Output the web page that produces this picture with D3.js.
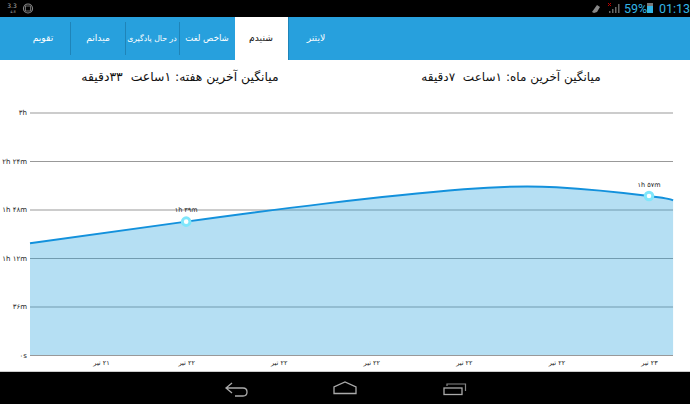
<!DOCTYPE html>
<html><head><meta charset="utf-8">
<script src="https://cdnjs.cloudflare.com/ajax/libs/d3/7.8.5/d3.min.js"></script>
<style>html,body{margin:0;padding:0;background:#fff}svg{display:block}text{font-family:"DejaVu Sans",sans-serif}</style>
</head><body><svg id="c" width="690" height="404"></svg>
<script>
const tabs = ["لایتنر","شنیدم","شاخص لغت","در حال یادگیری","میدانم","تقویم"];
const titles = ["میانگین آخرین هفته: ۱ساعت  ۳۳دقیقه","میانگین آخرین ماه: ۱ساعت  ۷دقیقه"];
const yTicks = [0,36,72,108,144,180];
const yLabels = ["۰s","۳۶m","۱h ۱۲m","۱h ۴۸m","۲h ۲۴m","۳h"];
const xTicks = [0.08,1,2,3,4,5,6];
const xLabels = ["۲۱ تیر","۲۲ تیر","۲۲ تیر","۲۲ تیر","۲۲ تیر","۲۲ تیر","۲۳ تیر"];
const seriesX = [-0.687,1,2.5,4,5,6,6.26];
const seriesY = [82.9,99,112.4,123,124.5,118,114.8];
const markerX = [1,6];
const markerY = [99,118];
const markerLabels = ["۱h ۳۹m","۱h ۵۷m"];

const svg = d3.select("#c");
const blue = "#27a0dd";

// Android status bar and navigation bar
svg.append("rect").attr("width",690).attr("height",17).attr("fill","#000");
svg.append("rect").attr("y",372).attr("width",690).attr("height",32).attr("fill","#000");
svg.append("rect").attr("y",371).attr("width",690).attr("height",1).attr("fill","#ccc");
svg.append("text").attr("x",12).attr("y",8).attr("font-size",6).attr("fill","#aaa").attr("text-anchor","middle").text("3.3");
svg.append("text").attr("x",13).attr("y",13).attr("font-size",3.5).attr("fill","#aaa").attr("text-anchor","middle").text("4.8");
svg.append("circle").attr("cx",28).attr("cy",8.5).attr("r",4.5).attr("fill","none").attr("stroke","#888").attr("stroke-width",1.2);
svg.append("rect").attr("x",25.5).attr("y",6).attr("width",5).attr("height",5).attr("fill","none").attr("stroke","#888").attr("stroke-width",.8);
svg.append("path").attr("d","M592 12L597 5L600 7L597 12L594 13Z").attr("fill","#888");
svg.append("path").attr("d","M609 13h1.5v-2h-1.5zM612 13h1.5v-4h-1.5zM615 13h1.5v-6h-1.5zM618 13h1.5v-9h-1.5z").attr("fill","#666");
svg.append("path").attr("d","M608 3L611 6M611 3L608 6").attr("stroke","#b00").attr("stroke-width",1);
svg.append("text").attr("x",624).attr("y",13).attr("style","font-family:Roboto").attr("font-size",12.5).attr("fill","#33b5e5").text("59%");
svg.append("rect").attr("x",647).attr("y",3).attr("width",6).attr("height",10).attr("fill","#33b5e5");
svg.append("rect").attr("x",647).attr("y",3).attr("width",6).attr("height",3).attr("fill","#777");
svg.append("text").attr("x",659).attr("y",13).attr("style","font-family:Roboto").attr("font-size",12.5).attr("fill","#33b5e5").text("01:13");
svg.append("path").attr("d","M232 383L226 388L232 393M226 388H243Q247 388 247 392Q247 396 243 396H235").attr("fill","none").attr("stroke","#aaa").attr("stroke-width",1.3);
svg.append("path").attr("d","M334 393.5V387L345 382L356 387V393.5Z").attr("fill","none").attr("stroke","#aaa").attr("stroke-width",1.3);
svg.append("rect").attr("x",444).attr("y",388).attr("width",18).attr("height",6.5).attr("fill","none").attr("stroke","#aaa").attr("stroke-width",1.3);
svg.append("path").attr("d","M447 386V384H465.5V391").attr("fill","none").attr("stroke","#888").attr("stroke-width",1.2);

// Tab bar
svg.append("rect").attr("y",17).attr("width",690).attr("height",43).attr("fill",blue);
svg.append("rect").attr("x",235).attr("y",17).attr("width",53).attr("height",43).attr("fill","#fff");
const tabX = [316,261,207,152,98,43];
const tabSize = [9.2,9.2,8.6,7.8,9.2,9.2];
svg.selectAll(".tab").data(tabs).join("text").attr("class","tab")
  .attr("x",(d,i)=>tabX[i]).attr("y",41).attr("direction","rtl").attr("text-anchor","middle")
  .attr("font-size",(d,i)=>tabSize[i]).attr("fill",(d,i)=>i==1?"#111":"#fff").text(d=>d);
svg.selectAll(".sep").data([70,125,179]).join("rect").attr("class","sep")
  .attr("x",d=>d).attr("y",22).attr("width",1).attr("height",33).attr("fill","#1f84b8");
svg.append("rect").attr("x",288).attr("y",17).attr("width",1).attr("height",43).attr("fill","#1f84b8");

// Headlines
const titleX = [180,511];
const titleSize = [12.4,12.05];
svg.selectAll(".ttl").data(titles).join("text").attr("class","ttl")
  .attr("x",(d,i)=>titleX[i]).attr("y",80.5).attr("direction","rtl").attr("text-anchor","middle")
  .attr("font-size",(d,i)=>titleSize[i]).attr("fill","#111").style("white-space","pre").text(d=>d);

// Chart
const x = d3.scaleLinear().domain([0,6]).range([93.6,649]);
const y = d3.scaleLinear().domain([0,180]).range([355,112.5]);
const xMin = x(-0.687), xMax = 673;

const yAxis = d3.axisLeft(y).tickValues(yTicks).tickFormat((d,i)=>yLabels[i]).tickSize(-(xMax-xMin)).tickPadding(3);
const gy = svg.append("g").attr("transform",`translate(${xMin},0)`).call(yAxis);
gy.select(".domain").remove();
gy.selectAll("line").attr("stroke","#999").attr("stroke-width",1);
gy.selectAll("text").attr("font-size",7).attr("fill","#222").attr("direction","ltr").attr("x",-3).style("unicode-bidi","plaintext");

const curve = d3.curveNatural;
const pts = seriesX.map((v,i)=>[v,seriesY[i]]);
const area = d3.area().x(d=>x(d[0])).y0(y(0)).y1(d=>y(d[1])).curve(curve);
const line = d3.line().x(d=>x(d[0])).y(d=>y(d[1])).curve(curve);
svg.append("path").datum(pts).attr("d",area).attr("fill",blue).attr("fill-opacity",.34);
svg.append("path").datum(pts).attr("d",line).attr("fill","none").attr("stroke","#1391dc").attr("stroke-width",1.9);

const xAxis = d3.axisBottom(x).tickValues(xTicks).tickFormat((d,i)=>xLabels[i]).tickSize(0).tickPadding(5);
const gx = svg.append("g").attr("transform","translate(0,355)").call(xAxis);
gx.select(".domain").remove();
gx.selectAll("text").attr("font-size",6.5).attr("fill","#222").attr("direction","rtl");

svg.selectAll(".mk").data(markerX).join("circle").attr("class","mk")
  .attr("cx",d=>x(d)).attr("cy",(d,i)=>y(markerY[i])).attr("r",3.8)
  .attr("fill","#fff").attr("stroke","#7fe6fb").attr("stroke-width",3);
svg.selectAll(".ml").data(markerX).join("text").attr("class","ml")
  .attr("x",d=>x(d)).attr("y",(d,i)=>y(markerY[i])-9.5).attr("text-anchor","middle")
  .attr("font-size",6.5).attr("fill","#222").text((d,i)=>markerLabels[i]);
</script></body></html>
